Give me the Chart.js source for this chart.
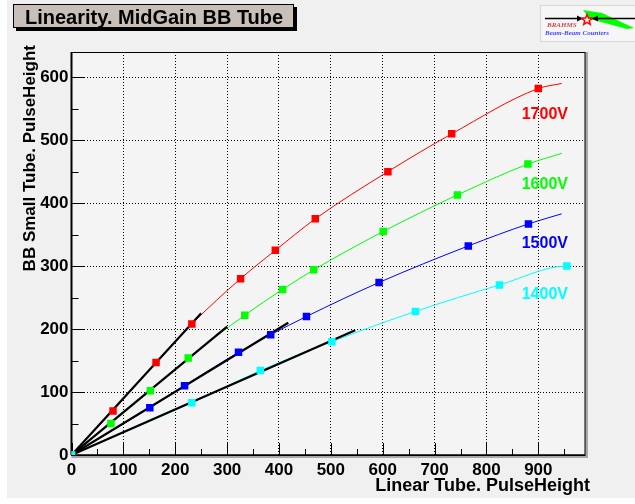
<!DOCTYPE html>
<html>
<head>
<meta charset="utf-8">
<title>Linearity. MidGain BB Tube</title>
<script src="https://cdn.jsdelivr.net/npm/chart.js@4.4.1/dist/chart.umd.min.js"></script>
<style>
  html, body { margin: 0; padding: 0; background: #ffffff; }
  #linChart { display: block; }
</style>
</head>
<body>
<canvas id="linChart" width="635" height="504"></canvas>
<script>
const seriesNames = ['1700V', '1600V', '1500V', '1400V'];
const seriesColors = ['#ff0000', '#00ff00', '#0000ff', '#00ffff'];

// measured points: [linear tube, small tube]
const pts1700 = [[0, 0], [80, 70], [163, 147], [232, 208], [326, 280], [393, 325], [470, 375], [610, 450], [733, 510], [900, 582]];
const pts1600 = [[0, 0], [76, 50], [152, 102], [225, 154], [334, 222], [407, 263], [467, 294], [601, 355], [744, 413], [880, 462]];
const pts1500 = [[0, 0], [151, 75], [218, 110], [322, 163], [384, 191], [453, 220], [593, 274], [765, 332], [881, 367]];
const pts1400 = [[0, 0], [232, 83], [364, 134], [502, 180], [663, 228], [825, 270], [955, 300]];

// where the fitted curves stop
const curveEnd = [[945, 590], [945, 479], [945, 383], [955, 300]];
// straight fits of the low part, from the origin to these points
const linFitEnd = [[250, 225], [300, 204], [418, 210], [547, 198]];

const xTicks = [0, 100, 200, 300, 400, 500, 600, 700, 800, 900];
const yTicks = [0, 100, 200, 300, 400, 500, 600];
const xMinor = [50, 150, 250, 350, 450, 550, 650, 750, 850, 950];
const yMinor = [50, 150, 250, 350, 450, 550];

const FONT = '"Liberation Sans", Arial, Helvetica, sans-serif';
const toXY = p => ({ x: p[0], y: p[1] });

const pointSets = [pts1700, pts1600, pts1500, pts1400];
const datasets = [];
pointSets.forEach(function(pts, i) {
    datasets.push({
        label: seriesNames[i],
        data: pts.map(toXY),
        showLine: false,
        pointStyle: 'rect',
        pointRadius: 5.3,
        pointHoverRadius: 5.3,
        backgroundColor: seriesColors[i],
        borderColor: seriesColors[i],
        borderWidth: 0,
        order: i === 3 ? -1 : 0
    });
    datasets.push({
        label: seriesNames[i] + ' fit',
        data: pts.concat([curveEnd[i]]).map(toXY),
        showLine: true,
        pointRadius: 0,
        borderColor: seriesColors[i],
        borderWidth: 1,
        cubicInterpolationMode: 'monotone',
        fill: false,
        order: 2
    });
    datasets.push({
        label: seriesNames[i] + ' linear',
        data: [[0, 0], linFitEnd[i]].map(toXY),
        showLine: true,
        pointRadius: 0,
        borderColor: '#000000',
        borderWidth: 2.2,
        fill: false,
        order: 1
    });
});

const labelAt = [[868, 534], [868, 423], [868, 328], [868, 248]];

function drawStar(ctx, cx, cy, r1, r2) {
    ctx.beginPath();
    for (let k = 0; k < 10; k++) {
        const r = k % 2 === 0 ? r1 : r2;
        const a = -Math.PI / 2 + k * Math.PI / 5;
        const px = cx + r * Math.cos(a), py = cy + r * Math.sin(a);
        if (k === 0) ctx.moveTo(px, py); else ctx.lineTo(px, py);
    }
    ctx.closePath();
}

const rootLook = {
    id: 'rootLook',
    beforeDraw(chart) {
        const { ctx, chartArea: a } = chart;
        ctx.save();
        ctx.fillStyle = '#ffffff';
        ctx.fillRect(0, 0, chart.width, chart.height);
        ctx.fillStyle = '#f0f0f0';
        ctx.fillRect(7, 0, chart.width - 7, 498);
        ctx.fillStyle = '#f4f4f4';
        ctx.fillRect(a.left, a.top, a.width, a.height);
        ctx.restore();
    },
    beforeDatasetsDraw(chart) {
        const { ctx, chartArea: a, scales } = chart;
        ctx.save();
        // frame shadow
        ctx.fillStyle = '#a8a8a8';
        ctx.fillRect(a.right, a.top, 3, a.height + 3);
        ctx.fillRect(a.left, a.bottom, a.width + 3, 3);
        ctx.strokeStyle = '#000';
        ctx.lineWidth = 1;
        ctx.strokeRect(a.left, a.top + 0.5, a.width, a.height);
        // axes
        ctx.lineWidth = 2;
        ctx.beginPath();
        ctx.moveTo(a.left, a.top); ctx.lineTo(a.left, a.bottom);
        ctx.stroke();
        ctx.lineWidth = 1.5;
        ctx.beginPath();
        ctx.moveTo(a.left, a.bottom); ctx.lineTo(a.right, a.bottom);
        ctx.stroke();
        // tick marks
        ctx.lineWidth = 1;
        ctx.beginPath();
        yTicks.forEach(v => { const y = Math.round(scales.y.getPixelForValue(v)) + 0.5; ctx.moveTo(a.left, y); ctx.lineTo(a.left + 13, y); });
        yMinor.forEach(v => { const y = Math.round(scales.y.getPixelForValue(v)) + 0.5; ctx.moveTo(a.left, y); ctx.lineTo(a.left + 7, y); });
        xTicks.forEach(v => { const x = Math.round(scales.x.getPixelForValue(v)) + 0.5; ctx.moveTo(x, a.bottom); ctx.lineTo(x, a.bottom - 12); });
        xMinor.forEach(v => { const x = Math.round(scales.x.getPixelForValue(v)) + 0.5; ctx.moveTo(x, a.bottom); ctx.lineTo(x, a.bottom - 6); });
        ctx.stroke();
        ctx.restore();
    },
    afterDraw(chart) {
        const { ctx, scales } = chart;
        ctx.save();

        // title box
        ctx.fillStyle = '#000';
        ctx.fillRect(16, 7, 281, 24);
        ctx.fillStyle = '#c8c0b8';
        ctx.fillRect(13, 4, 281, 24);
        ctx.strokeStyle = '#000';
        ctx.lineWidth = 1;
        ctx.strokeRect(13.5, 4.5, 280, 23);
        ctx.fillStyle = '#000';
        ctx.font = 'bold 20px ' + FONT;
        ctx.textAlign = 'left';
        ctx.textBaseline = 'alphabetic';
        ctx.fillText('Linearity. MidGain BB Tube', 25, 23.5);

        // axis titles
        ctx.font = 'bold 18px ' + FONT;
        ctx.textAlign = 'right';
        ctx.fillText('Linear Tube. PulseHeight', 590, 491);
        ctx.save();
        ctx.translate(35, 45);
        ctx.rotate(-Math.PI / 2);
        ctx.font = 'bold 17px ' + FONT;
        ctx.textAlign = 'right';
        ctx.fillText('BB Small Tube. PulseHeight', 0, 0);
        ctx.restore();

        // voltage labels
        ctx.font = 'bold 16px ' + FONT;
        ctx.textAlign = 'left';
        seriesNames.forEach((name, i) => {
            ctx.fillStyle = seriesColors[i];
            ctx.fillText(name, scales.x.getPixelForValue(labelAt[i][0]), scales.y.getPixelForValue(labelAt[i][1]));
        });

        // BRAHMS logo
        ctx.fillStyle = '#f6f6f6';
        ctx.fillRect(540, 5, 95, 36);
        ctx.strokeStyle = '#d8d8d8';
        ctx.strokeRect(540.5, 5.5, 95, 36);
        ctx.fillStyle = '#00ff00';
        ctx.beginPath();
        ctx.moveTo(583, 10); ctx.lineTo(602, 13); ctx.lineTo(634, 28); ctx.lineTo(627, 29); ctx.lineTo(590, 19);
        ctx.closePath();
        ctx.fill();
        ctx.strokeStyle = '#000';
        ctx.lineWidth = 1.5;
        ctx.beginPath();
        ctx.moveTo(545, 18.5); ctx.lineTo(635, 18.5);
        ctx.stroke();
        ctx.fillStyle = '#000';
        ctx.beginPath();
        ctx.moveTo(583, 18.5); ctx.lineTo(577, 15.5); ctx.lineTo(577, 21.5); ctx.closePath();
        ctx.moveTo(592, 18.5); ctx.lineTo(598, 15.5); ctx.lineTo(598, 21.5); ctx.closePath();
        ctx.fill();
        drawStar(ctx, 587, 20, 5.5, 2.4);
        ctx.fillStyle = '#ffffff';
        ctx.fill();
        ctx.strokeStyle = '#ff0000';
        ctx.lineWidth = 1.5;
        ctx.stroke();
        ctx.font = 'italic bold 7px "Liberation Serif", serif';
        ctx.fillStyle = '#d04848';
        ctx.fillText('BRAHMS', 547, 26.5);
        ctx.fillStyle = '#4848ff';
        ctx.fillText('Beam-Beam Counters', 545, 35);

        ctx.restore();
    }
};

const axisFont = { family: FONT, size: 17, weight: 'bold' };
const gridColor = c => (c.tick && c.tick.value === 0) ? 'rgba(0,0,0,0)' : '#000000';

new Chart(document.getElementById('linChart').getContext('2d'), {
    type: 'scatter',
    data: { datasets: datasets },
    options: {
        responsive: false,
        animation: false,
        layout: { padding: { left: 0, right: 50, top: 52, bottom: 0 } },
        plugins: {
            legend: { display: false },
            tooltip: { enabled: false }
        },
        scales: {
            x: {
                type: 'linear',
                min: 0,
                max: 990,
                afterBuildTicks: s => { s.ticks = xTicks.map(v => ({ value: v })); },
                afterFit: s => { s.height = 49; },
                grid: { color: gridColor, lineWidth: 1, drawTicks: false, borderDash: [1, 2] },
                border: { display: false, dash: [1, 2] },
                ticks: { color: '#000', font: axisFont, padding: 5, maxRotation: 0, autoSkip: false }
            },
            y: {
                type: 'linear',
                min: 0,
                max: 640,
                afterBuildTicks: s => { s.ticks = yTicks.map(v => ({ value: v })); },
                afterFit: s => { s.width = 71.5; },
                grid: { color: gridColor, lineWidth: 1, drawTicks: false, borderDash: [1, 2] },
                border: { display: false, dash: [1, 2] },
                ticks: { color: '#000', font: axisFont, padding: 3, autoSkip: false }
            }
        }
    },
    plugins: [rootLook]
});
</script>
</body>
</html>
